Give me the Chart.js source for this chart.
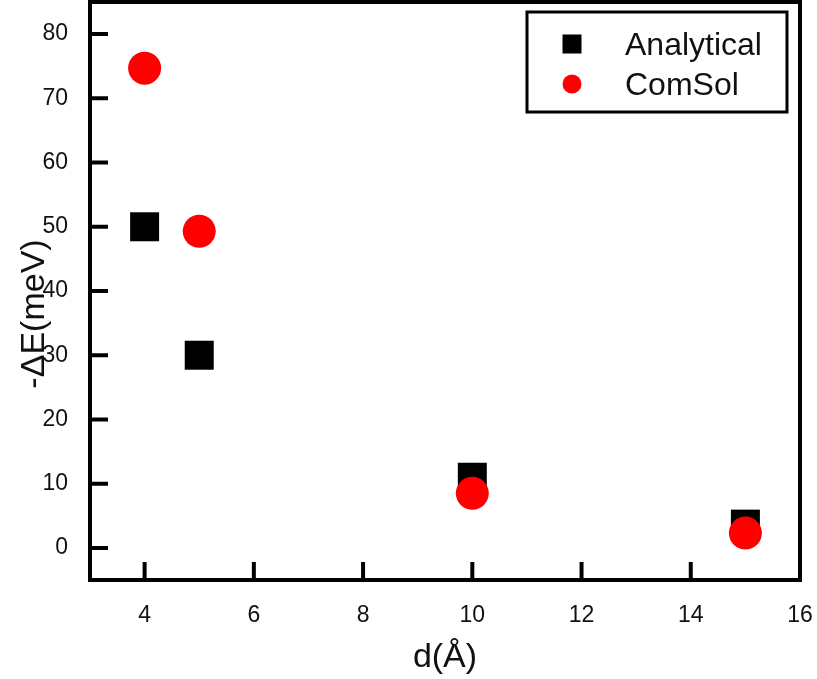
<!DOCTYPE html>
<html>
<head>
<meta charset="utf-8">
<script src="https://cdn.jsdelivr.net/npm/chart.js@4.4.1/dist/chart.umd.min.js"></script>
<style>
  html, body { margin: 0; padding: 0; background: #fff; }
  #wrap { width: 817px; height: 679px; }
</style>
</head>
<body>
<div id="wrap"><canvas id="chart"></canvas></div>
<script>
// data
const distances = [4, 5, 10, 15];
const analytical = [50, 30, 11, 3.7];
const comsol = [74.7, 49.3, 8.5, 2.3];
const xTickValues = [4, 6, 8, 10, 12, 14, 16];
const yTickValues = [0, 10, 20, 30, 40, 50, 60, 70, 80];
const seriesLabels = ['Analytical', 'ComSol'];

const FONT = "'Liberation Sans', Arial, sans-serif";
const INK = '#111';

function points(ys) {
  return distances.map((x, i) => ({x, y: ys[i]}));
}

// frame, inward ticks, axis titles and boxed legend
const framePlugin = {
  id: 'frame',
  afterDraw(chart) {
    const {ctx, chartArea: a, scales} = chart;
    ctx.save();
    ctx.strokeStyle = '#000';
    ctx.lineWidth = 4;
    ctx.lineCap = 'butt';
    ctx.beginPath();
    xTickValues.forEach(v => {
      const px = scales.x.getPixelForValue(v);
      ctx.moveTo(px, a.bottom);
      ctx.lineTo(px, a.bottom - 18);
    });
    yTickValues.forEach(v => {
      const py = scales.y.getPixelForValue(v);
      ctx.moveTo(a.left, py);
      ctx.lineTo(a.left + 18, py);
    });
    ctx.stroke();
    ctx.strokeRect(a.left, a.top, a.right - a.left, a.bottom - a.top);

    // axis titles
    ctx.fillStyle = INK;
    ctx.font = '34px ' + FONT;
    ctx.textAlign = 'center';
    ctx.textBaseline = 'alphabetic';
    ctx.fillText('d(Å)', (a.left + a.right) / 2, 667);
    ctx.save();
    ctx.translate(44, 314);
    ctx.rotate(-Math.PI / 2);
    ctx.fillText('-ΔE(meV)', 0, 0);
    ctx.restore();

    // legend box
    const lx = a.right - 273, ly = a.top + 10;
    ctx.lineWidth = 3;
    ctx.strokeRect(lx, ly, 260, 100);
    ctx.fillStyle = '#000';
    ctx.fillRect(lx + 35.5, ly + 22.5, 19, 19);
    ctx.fillStyle = '#ff0000';
    ctx.beginPath();
    ctx.arc(lx + 45, ly + 72, 9.5, 0, Math.PI * 2);
    ctx.fill();
    ctx.fillStyle = INK;
    ctx.font = '32px ' + FONT;
    ctx.textAlign = 'left';
    ctx.fillText(seriesLabels[0], lx + 98, ly + 43);
    ctx.fillText(seriesLabels[1], lx + 98, ly + 83);
    ctx.restore();
  }
};

new Chart(document.getElementById('chart'), {
  type: 'scatter',
  data: {
    datasets: [
      {
        label: seriesLabels[0],
        data: points(analytical),
        pointStyle: 'rect',
        pointRadius: 20.5,
        pointHoverRadius: 20.5,
        backgroundColor: '#000',
        borderWidth: 0,
        order: 2
      },
      {
        label: seriesLabels[1],
        data: points(comsol),
        pointStyle: 'circle',
        pointRadius: 16.5,
        pointHoverRadius: 16.5,
        backgroundColor: '#ff0000',
        borderWidth: 0,
        order: 1
      }
    ]
  },
  options: {
    responsive: true,
    maintainAspectRatio: false,
    animation: false,
    layout: {autoPadding: false, padding: {top: 2, right: 17, left: 0, bottom: 0}},
    plugins: {legend: {display: false}, tooltip: {enabled: false}},
    scales: {
      x: {
        type: 'linear',
        min: 3,
        max: 16,
        grid: {display: false, drawTicks: false},
        border: {display: false},
        ticks: {color: INK, font: {family: FONT, size: 23}, padding: 22},
        afterBuildTicks: s => { s.ticks = xTickValues.map(v => ({value: v})); },
        afterFit: s => { s.height = 99; s.paddingLeft = 0; s.paddingRight = 0; }
      },
      y: {
        type: 'linear',
        min: -5,
        max: 85,
        grid: {display: false, drawTicks: false},
        border: {display: false},
        ticks: {color: INK, font: {family: FONT, size: 23}, padding: 22},
        afterBuildTicks: s => { s.ticks = yTickValues.map(v => ({value: v})); },
        afterFit: s => { s.width = 90; s.paddingTop = 0; s.paddingBottom = 0; }
      }
    }
  },
  plugins: [framePlugin]
});
</script>
</body>
</html>
